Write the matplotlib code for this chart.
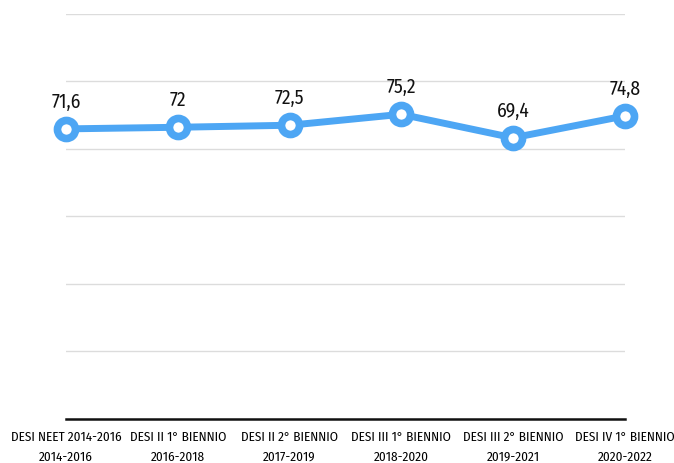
import matplotlib
matplotlib.use('Agg')
import matplotlib.pyplot as plt
import numpy as np

plt.rcParams['font.family'] = ['Fira Sans Condensed', 'PT Sans Narrow', 'Open Sans Condensed',
                               'Liberation Sans Narrow', 'DejaVu Sans']

categories = ['DESI NEET 2014-2016\n2014-2016', 'DESI II 1° BIENNIO\n2016-2018',
              'DESI II 2° BIENNIO\n2017-2019', 'DESI III 1° BIENNIO\n2018-2020',
              'DESI III 2° BIENNIO\n2019-2021', 'DESI IV 1° BIENNIO\n2020-2022']
values = [71.6, 72, 72.5, 75.2, 69.4, 74.8]
labels = ['71,6', '72', '72,5', '75,2', '69,4', '74,8']

blue = '#4da6f4'

fig = plt.figure(figsize=(6.74, 4.64), dpi=100)
ax = fig.add_axes([0.098, 0.095, 0.829, 0.873])

xs = np.arange(len(values))
ax.plot(xs, values, color=blue, linewidth=5, marker='o', markersize=13,
        markerfacecolor='white', markeredgecolor=blue, markeredgewidth=5.5,
        solid_capstyle='round', zorder=3, clip_on=False)

for x, v, t in zip(xs, values, labels):
    ax.annotate(t, (x, v), xytext=(0, 13), textcoords='offset points',
                ha='center', va='bottom', fontsize=14, color='#111111')

ax.set_xlim(0, len(values) - 1)
ax.set_ylim(0, 100)
ax.set_yticks(np.linspace(0, 100, 7))
ax.set_yticklabels([])
ax.tick_params(axis='y', length=0)
ax.grid(axis='y', color='#dcdcdc', linewidth=1)
ax.set_axisbelow(True)

ax.set_xticks(xs)
ax.set_xticklabels(categories, fontsize=9.5, linespacing=1.75)
ax.tick_params(axis='x', length=0, pad=8)

for side in ['top', 'left', 'right']:
    ax.spines[side].set_visible(False)
ax.spines['bottom'].set_color('#111111')
ax.spines['bottom'].set_linewidth(1.8)

fig.savefig('out.png', dpi=100)
